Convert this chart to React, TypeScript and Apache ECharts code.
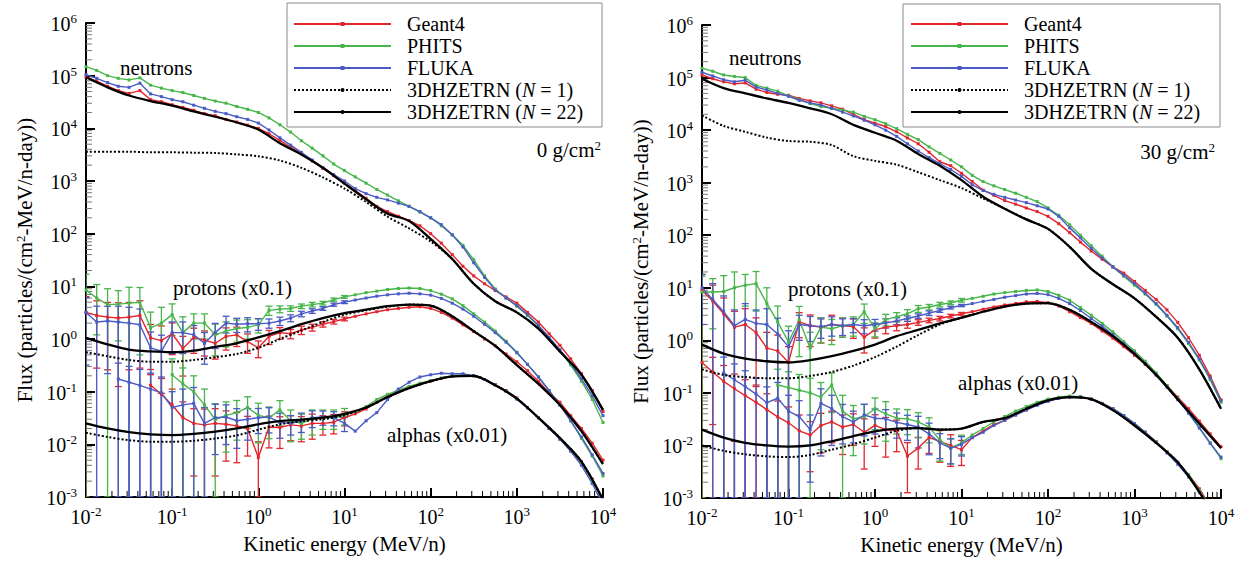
import React, { useEffect, useRef } from "react";
import * as echarts from "echarts";

// ---------- energy grids (MeV/n) ----------
const E_MC = [0.01, 0.0133, 0.0178, 0.0237, 0.0316, 0.0422, 0.0562, 0.075, 0.1, 0.133, 0.178, 0.237, 0.316, 0.422, 0.562, 0.75, 1, 1.33, 1.78, 2.37, 3.16, 4.22, 5.62, 7.5, 10, 13.3, 17.8, 23.7, 31.6, 42.2, 56.2, 75, 100, 133, 178, 237, 316, 422, 562, 750, 1000, 1330, 1780, 2370, 3160, 4220, 5620, 7500, 10000];
const E_TH = [0.01, 0.0178, 0.0316, 0.0562, 0.1, 0.178, 0.316, 0.562, 1, 1.78, 3.16, 5.62, 10, 17.8, 31.6, 56.2, 100, 178, 316, 562, 1000, 1780, 3160, 5620, 10000];

// ---------- 0 g/cm2 ----------
const L_NEU_G4 = [9.5e4, 7.9e4, 6.3e4, 5.2e4, 4.6e4, 5.2e4, 3.5e4, 3.2e4, 2.8e4, 2.5e4, 2.2e4, 1.9e4, 1.74e4, 1.48e4, 1.32e4, 1.15e4, 1.0e4, 7.9e3, 5.9e3, 4.4e3, 3.3e3, 2.4e3, 1.74e3, 1.26e3, 910, 660, 470, 330, 263, 214, 178, 141, 100, 66, 40, 24, 15.8, 11.2, 8.3, 6.3, 4.8, 3.2, 2.1, 1.26, 0.76, 0.42, 0.22, 0.105, 0.042];
const L_NEU_PH = [1.48e5, 1.26e5, 1.0e5, 8.9e4, 8.3e4, 9.1e4, 6.6e4, 5.8e4, 5.2e4, 4.8e4, 4.2e4, 3.7e4, 3.3e4, 3.0e4, 2.6e4, 2.3e4, 2.0e4, 1.58e4, 1.17e4, 8.5e3, 5.8e3, 4.2e3, 3.0e3, 2.1e3, 1.58e3, 1.2e3, 910, 690, 540, 420, 330, 257, 200, 141, 95, 60, 32, 15.8, 8.9, 6.0, 4.2, 2.8, 1.78, 1.05, 0.6, 0.32, 0.158, 0.071, 0.026];
const L_NEU_FL = [1.05e5, 8.9e4, 7.4e4, 6.3e4, 6.0e4, 7.2e4, 4.5e4, 4.0e4, 3.5e4, 3.2e4, 2.75e4, 2.4e4, 2.1e4, 1.9e4, 1.66e4, 1.48e4, 1.26e4, 9.3e3, 6.6e3, 4.8e3, 3.5e3, 2.5e3, 1.78e3, 1.32e3, 1.0e3, 720, 575, 490, 437, 380, 330, 263, 200, 148, 95, 56, 28, 14.8, 8.5, 6.0, 4.3, 2.9, 1.82, 1.07, 0.63, 0.34, 0.174, 0.083, 0.035];
const L_NEU_N1 = [3.6e3, 3.6e3, 3.6e3, 3.5e3, 3.5e3, 3.45e3, 3.4e3, 3.2e3, 2.95e3, 2.45e3, 1.78e3, 1.17e3, 720, 400, 210, 126, 71, 33, 11.2, 5.2, 3.2, 1.58, 0.58, 0.21, 0.045];
const L_NEU_N22 = [9.3e4, 6.0e4, 4.2e4, 3.3e4, 2.7e4, 2.1e4, 1.66e4, 1.29e4, 9.5e3, 5.2e3, 3.2e3, 1.78e3, 890, 450, 240, 174, 79, 33, 11.2, 5.2, 3.2, 1.58, 0.58, 0.21, 0.045];

const L_PRO_G4 = [3.2, 2.8, 2.6, 2.5, 2.6, 2.8, 1.05, 0.93, 1.26, 0.66, 1.07, 0.95, 0.83, 1.12, 1.2, 0.89, 0.68, 1.12, 1.32, 1.26, 1.48, 1.66, 1.91, 2.14, 2.4, 2.7, 3.0, 3.3, 3.6, 3.8, 4.0, 4.1, 3.8, 3.2, 2.5, 1.86, 1.38, 1.0, 0.74, 0.52, 0.37, 0.25, 0.158, 0.095, 0.063, 0.035, 0.02, 0.0105, 0.005];
const L_PRO_PH = [8.5, 6.0, 4.5, 4.6, 4.8, 5.0, 1.62, 2.0, 2.9, 1.32, 2.0, 2.0, 1.2, 1.41, 1.58, 1.66, 1.86, 3.5, 3.7, 3.8, 4.2, 4.5, 4.8, 5.6, 6.3, 6.9, 7.6, 8.1, 8.7, 9.1, 9.3, 9.1, 8.3, 7.1, 5.8, 4.3, 3.0, 2.1, 1.41, 0.91, 0.56, 0.33, 0.19, 0.105, 0.056, 0.028, 0.013, 0.006, 0.0025];
const L_PRO_FL = [3.2, 2.1, 2.2, 2.1, 2.0, 1.86, 0.68, 0.59, 1.32, 1.32, 1.2, 0.83, 1.32, 2.0, 1.9, 1.95, 1.95, 2.0, 2.2, 2.5, 3.0, 3.4, 3.8, 4.5, 5.0, 5.5, 6.0, 6.5, 6.9, 7.2, 7.4, 7.2, 6.8, 5.9, 4.8, 3.7, 2.7, 1.9, 1.32, 0.87, 0.55, 0.33, 0.19, 0.105, 0.056, 0.028, 0.0138, 0.0063, 0.0028];
const L_PRO_N1 = [0.56, 0.47, 0.4, 0.37, 0.37, 0.4, 0.45, 0.52, 0.68, 1.0, 1.45, 2.1, 2.9, 3.5, 4.1, 4.5, 4.3, 2.7, 1.41, 0.74, 0.32, 0.141, 0.056, 0.0178, 0.0042];
const L_PRO_N22 = [1.05, 0.79, 0.63, 0.58, 0.56, 0.6, 0.71, 0.83, 1.07, 1.41, 1.91, 2.5, 3.1, 3.6, 4.2, 4.5, 4.3, 2.7, 1.41, 0.74, 0.32, 0.141, 0.056, 0.0178, 0.0042];

const L_ALP_G4 = [null, null, null, null, null, null, 0.132, 0.089, 0.056, 0.032, 0.025, 0.0234, 0.025, 0.024, 0.0224, 0.02, 0.0056, 0.0214, 0.0209, 0.0234, 0.0224, 0.025, 0.025, 0.0263, 0.032, 0.038, 0.047, 0.063, 0.083, 0.1, 0.12, 0.138, 0.158, 0.178, 0.195, 0.204, 0.2, 0.17, 0.135, 0.105, 0.076, 0.05, 0.032, 0.02, 0.0126, 0.0079, 0.0047, 0.0022, 0.00089];
const L_ALP_PH = [null, null, null, null, null, null, null, null, 0.21, 0.141, 0.1, 0.056, 0.0295, 0.0355, 0.04, 0.05, 0.0355, 0.032, 0.045, 0.028, 0.025, 0.03, 0.032, 0.032, 0.0355, 0.042, 0.052, 0.071, 0.089, 0.107, 0.126, 0.145, 0.162, 0.182, 0.2, 0.209, 0.2, 0.17, 0.135, 0.102, 0.074, 0.05, 0.032, 0.02, 0.0126, 0.0076, 0.0044, 0.0021, 0.0008];
const L_ALP_FL = [null, null, null, 0.174, 0.151, 0.132, 0.112, 0.095, 0.05, 0.056, 0.06, 0.025, 0.032, 0.033, 0.028, 0.03, 0.032, 0.033, 0.026, 0.025, 0.028, 0.032, 0.033, 0.032, 0.025, 0.0178, 0.028, 0.04, 0.071, 0.112, 0.151, 0.19, 0.209, 0.224, 0.219, 0.219, 0.2, 0.17, 0.135, 0.102, 0.072, 0.049, 0.032, 0.02, 0.0126, 0.0074, 0.004, 0.0018, 0.0007];
const L_ALP_N1 = [0.0166, 0.0138, 0.012, 0.0112, 0.0112, 0.0117, 0.0129, 0.0148, 0.019, 0.024, 0.0275, 0.03, 0.0355, 0.05, 0.079, 0.117, 0.158, 0.195, 0.2, 0.132, 0.074, 0.032, 0.0132, 0.0047, 0.00089];
const L_ALP_N22 = [0.025, 0.02, 0.017, 0.0155, 0.015, 0.0158, 0.0174, 0.02, 0.024, 0.0275, 0.0295, 0.032, 0.038, 0.05, 0.079, 0.117, 0.158, 0.195, 0.2, 0.132, 0.074, 0.032, 0.0132, 0.0047, 0.00089];

// relative statistical errors (sigma / value) of the low-energy Monte Carlo bins
const L_PRO_G4_ERR = [1.0, 0.9, 0.9, 0.95, 0.9, 0.9, 0.8, 0.9, 0.6, 0.7, 0.5, 0.5, 0.5, 0.45, 0.4, 0.4, 0.35, 0.3, 0.25, 0.2, 0.18, 0.15, 0.12, 0.1, 0.08];
const L_PRO_PH_ERR = [1.0, 0.8, 1.0, 0.8, 1.0, 0.9, 1.0, 1.0, 0.6, 1.0, 0.5, 0.5, 0.6, 0.5, 0.45, 0.4, 0.3, 0.2, 0.15, 0.12, 0.1, 0.1, 0.08, 0.07, 0.06];
const L_PRO_FL_ERR = [0.9, 1.0, 0.9, 1.0, 1.0, 1.0, 1.0, 1.0, 0.6, 0.6, 0.5, 0.6, 0.5, 0.35, 0.3, 0.3, 0.25, 0.2, 0.18, 0.15, 0.12, 0.1, 0.08, 0.07, 0.06];
const L_ALP_G4_ERR = [null, null, null, null, null, null, 1.0, 1.0, 1.0, 1.0, 0.9, 1.0, 0.9, 0.8, 0.8, 0.7, 1.0, 0.6, 0.6, 0.5, 0.5, 0.5, 0.4, 0.4, 0.3];
const L_ALP_PH_ERR = [null, null, null, null, null, null, null, null, 1.0, 1.0, 1.0, 1.0, 1.0, 0.8, 0.7, 0.6, 0.7, 0.6, 0.5, 0.6, 0.5, 0.5, 0.4, 0.4, 0.35];
const L_ALP_FL_ERR = [null, null, null, 1.0, 1.0, 1.0, 1.0, 1.0, 1.0, 1.0, 1.0, 1.0, 0.8, 0.7, 0.7, 0.6, 0.5, 0.5, 0.5, 0.4, 0.4, 0.35, 0.3, 0.3, 0.3];

// ---------- 30 g/cm2 ----------
const R_NEU_G4 = [1.12e5, 9.5e4, 8.3e4, 7.6e4, 7.9e4, 6.0e4, 5.2e4, 4.8e4, 4.6e4, 4.0e4, 3.6e4, 3.3e4, 2.9e4, 2.5e4, 2.0e4, 1.58e4, 1.35e4, 1.17e4, 9.3e3, 7.1e3, 5.5e3, 3.8e3, 2.5e3, 2.1e3, 1.51e3, 1.05e3, 720, 575, 457, 390, 330, 282, 229, 166, 112, 74, 50, 35, 25, 19, 13.2, 8.9, 6.0, 3.8, 2.2, 1.12, 0.52, 0.21, 0.074];
const R_NEU_PH = [1.51e5, 1.32e5, 1.12e5, 1.05e5, 1.0e5, 7.1e4, 6.3e4, 5.5e4, 4.5e4, 3.8e4, 3.2e4, 2.8e4, 2.6e4, 2.4e4, 2.2e4, 1.82e4, 1.58e4, 1.32e4, 1.07e4, 8.3e3, 6.6e3, 4.8e3, 3.6e3, 2.7e3, 2.0e3, 1.38e3, 1.05e3, 870, 740, 630, 525, 437, 330, 240, 158, 100, 63, 40, 25, 16.6, 11.2, 7.6, 4.8, 2.9, 1.66, 0.87, 0.42, 0.178, 0.066];
const R_NEU_FL = [1.26e5, 1.07e5, 9.1e4, 8.3e4, 8.9e4, 6.6e4, 5.8e4, 5.0e4, 4.4e4, 3.7e4, 3.3e4, 3.0e4, 2.6e4, 2.2e4, 1.86e4, 1.55e4, 1.26e4, 1.0e4, 7.6e3, 5.5e3, 4.0e3, 3.0e3, 2.3e3, 1.78e3, 1.32e3, 910, 710, 600, 525, 468, 417, 363, 316, 229, 138, 89, 56, 37, 25, 17.4, 12, 7.9, 5.0, 3.0, 1.74, 0.91, 0.44, 0.19, 0.071];
const R_NEU_N1 = [1.9e4, 1.2e4, 9.3e3, 7.2e3, 6.2e3, 6.0e3, 5.2e3, 3.2e3, 2.6e3, 2.2e3, 1.58e3, 1.12e3, 790, 500, 320, 200, 132, 60, 23, 11.7, 6.3, 2.8, 1.12, 0.28, 0.05];
const R_NEU_N22 = [9.5e4, 6.3e4, 5.0e4, 4.0e4, 3.3e4, 2.6e4, 2.0e4, 1.26e4, 8.9e3, 6.3e3, 3.5e3, 2.1e3, 1.12e3, 540, 320, 200, 132, 60, 23, 11.7, 6.3, 2.8, 1.12, 0.28, 0.05];

const R_PRO_G4 = [8.9, 5.6, 3.2, 1.78, 2.0, 1.41, 0.71, 0.63, 0.38, 2.24, 1.9, 1.78, 2.0, 1.9, 1.82, 1.15, 1.58, 1.78, 1.9, 2.0, 2.2, 2.4, 2.6, 2.9, 3.2, 3.5, 3.9, 4.3, 4.7, 5.0, 5.4, 5.5, 5.2, 4.5, 3.5, 2.7, 2.1, 1.51, 1.1, 0.76, 0.52, 0.35, 0.22, 0.138, 0.083, 0.05, 0.029, 0.0166, 0.0095];
const R_PRO_PH = [8.3, 8.3, 8.5, 10, 11.2, 12, 5.0, 2.24, 0.93, 2.45, 0.71, 1.78, 1.66, 1.9, 2.0, 3.5, 1.66, 2.5, 2.8, 3.2, 4.0, 4.3, 4.8, 5.2, 5.8, 6.3, 6.9, 7.6, 8.1, 8.5, 8.9, 9.1, 8.5, 7.2, 5.8, 4.2, 3.0, 2.1, 1.45, 0.95, 0.63, 0.4, 0.24, 0.138, 0.079, 0.043, 0.022, 0.0112, 0.0056];
const R_PRO_FL = [10, 6.0, 3.5, 1.9, 2.5, 2.1, 2.0, 1.32, 0.76, 2.0, 1.9, 1.82, 2.0, 1.9, 2.0, 1.9, 2.0, 2.14, 2.34, 2.6, 2.9, 3.3, 3.7, 4.2, 4.6, 5.0, 5.5, 6.0, 6.6, 7.1, 7.6, 7.8, 7.4, 6.3, 5.0, 3.7, 2.6, 1.86, 1.29, 0.87, 0.58, 0.36, 0.22, 0.129, 0.074, 0.041, 0.0214, 0.011, 0.006];
const R_PRO_N1 = [0.28, 0.22, 0.2, 0.19, 0.19, 0.21, 0.25, 0.33, 0.48, 0.76, 1.26, 2.0, 2.7, 3.5, 4.4, 5.0, 5.1, 3.8, 2.24, 1.2, 0.55, 0.22, 0.076, 0.026, 0.0089];
const R_PRO_N22 = [0.83, 0.56, 0.45, 0.4, 0.38, 0.42, 0.5, 0.63, 0.83, 1.2, 1.58, 2.1, 2.7, 3.5, 4.4, 5.0, 5.1, 3.8, 2.24, 1.2, 0.55, 0.22, 0.076, 0.026, 0.0089];

const R_ALP_G4 = [0.38, 0.25, 0.166, 0.12, 0.089, 0.066, 0.048, 0.035, 0.027, 0.019, 0.0158, 0.024, 0.028, 0.0224, 0.025, 0.0178, 0.024, 0.02, 0.019, 0.0063, 0.0089, 0.0141, 0.012, 0.01, 0.0083, 0.0141, 0.019, 0.025, 0.03, 0.038, 0.048, 0.06, 0.071, 0.079, 0.083, 0.083, 0.076, 0.063, 0.05, 0.037, 0.026, 0.0178, 0.0117, 0.0076, 0.0048, 0.0028, 0.0015, 0.0007, 0.00025];
const R_ALP_PH = [null, null, null, null, null, null, null, 0.141, 0.126, 0.112, 0.1, 0.083, 0.141, 0.045, 0.032, 0.0355, 0.05, 0.04, 0.033, 0.032, 0.028, 0.0224, 0.0126, 0.0089, 0.0112, 0.0158, 0.021, 0.028, 0.0355, 0.045, 0.055, 0.066, 0.076, 0.083, 0.087, 0.085, 0.076, 0.063, 0.05, 0.037, 0.026, 0.0178, 0.0117, 0.0076, 0.0047, 0.0028, 0.0014, 0.00066, 0.00025];
const R_ALP_FL = [null, null, 0.24, 0.178, 0.132, 0.095, 0.065, 0.079, 0.045, 0.0355, 0.02, 0.063, 0.05, 0.0355, 0.028, 0.038, 0.033, 0.032, 0.0275, 0.025, 0.0224, 0.0166, 0.0112, 0.0089, 0.0105, 0.0141, 0.0178, 0.024, 0.03, 0.038, 0.047, 0.058, 0.069, 0.078, 0.083, 0.083, 0.076, 0.063, 0.05, 0.037, 0.026, 0.0178, 0.0115, 0.0072, 0.0044, 0.0025, 0.0013, 0.00063, 0.00025];
const R_ALP_N1 = [0.01, 0.0079, 0.0068, 0.0062, 0.006, 0.0066, 0.0083, 0.0105, 0.0141, 0.019, 0.0214, 0.02, 0.0209, 0.028, 0.033, 0.05, 0.072, 0.083, 0.076, 0.047, 0.024, 0.0112, 0.0048, 0.0013, 0.00025];
const R_ALP_N22 = [0.02, 0.0141, 0.0112, 0.01, 0.0095, 0.01, 0.012, 0.0151, 0.0186, 0.0209, 0.0214, 0.02, 0.0209, 0.028, 0.033, 0.05, 0.072, 0.083, 0.076, 0.047, 0.024, 0.0112, 0.0048, 0.0013, 0.00025];

const R_PRO_G4_ERR = [1.0, 1.0, 1.0, 1.0, 1.0, 0.9, 1.0, 1.0, 1.0, 0.5, 0.6, 0.5, 0.5, 0.4, 0.4, 0.5, 0.3, 0.25, 0.2, 0.15, 0.12, 0.1, 0.1, 0.08, 0.06];
const R_PRO_PH_ERR = [1.0, 0.8, 1.0, 1.0, 0.6, 0.7, 1.0, 1.0, 1.0, 0.8, 1.0, 0.5, 0.5, 0.4, 0.4, 0.4, 0.3, 0.25, 0.2, 0.2, 0.15, 0.12, 0.1, 0.08, 0.08];
const R_PRO_FL_ERR = [0.8, 1.0, 1.0, 1.0, 1.0, 0.8, 1.0, 1.0, 1.0, 0.5, 0.5, 0.4, 0.4, 0.35, 0.3, 0.3, 0.25, 0.2, 0.15, 0.12, 0.1, 0.1, 0.08, 0.06, 0.05];
const R_ALP_G4_ERR = [1.0, 0.9, 1.0, 0.9, 1.0, 1.0, 1.0, 1.0, 1.0, 1.0, 0.8, 0.7, 0.6, 0.7, 0.6, 0.8, 0.6, 0.7, 0.6, 0.8, 0.6, 0.5, 0.6, 0.6, 0.5];
const R_ALP_PH_ERR = [null, null, null, null, null, null, null, 1.0, 1.0, 1.0, 0.9, 0.9, 0.7, 1.0, 0.8, 0.7, 0.6, 0.7, 0.5, 0.5, 0.5, 0.5, 0.6, 0.5, 0.4];
const R_ALP_FL_ERR = [null, null, 1.0, 1.0, 1.0, 1.0, 1.0, 1.0, 1.0, 1.0, 0.9, 0.9, 0.8, 0.7, 0.6, 0.6, 0.5, 0.5, 0.5, 0.5, 0.6, 0.6, 0.5, 0.5, 0.4];

// ---------- axis / legend text ----------
const LEGEND_NAMES = ["Geant4", "PHITS", "FLUKA", "3DHZETRN (N = 1)", "3DHZETRN (N = 22)"];
const MINOR_MULT = [2, 3, 4, 5, 6, 7, 8, 9];
const X_DECADES = [-2, -1, 0, 1, 2, 3];
const Y_DECADES = [-3, -2, -1, 0, 1, 2, 3, 4, 5];

const X_MIN = 0.01, X_MAX = 10000, Y_MIN = 0.001, Y_MAX = 1e6;
const FONT = "Times New Roman, Liberation Serif, DejaVu Serif, serif";
const RED = "#e3262d";
const GREEN = "#47b64a";
const BLUE = "#4a5bc6";

const supRich = {
  b: { fontSize: 20, fontFamily: FONT, color: "#000", verticalAlign: "bottom", lineHeight: 22 },
  s: { fontSize: 13, fontFamily: FONT, color: "#000", verticalAlign: "bottom", lineHeight: 22, padding: [0, 0, 9, 0] },
};
const powLabel = (v: number) => {
  const e = Math.round(Math.log10(v));
  return `{b|10}{s|${e}}`;
};

function pairs(xs: number[], ys: (number | null)[]) {
  const out: number[][] = [];
  ys.forEach((y, i) => {
    if (y != null) out.push([xs[i], y]);
  });
  return out;
}

function errData(ys: (number | null)[], errs: (number | null)[]) {
  const out: number[][] = [];
  errs.forEach((r, i) => {
    const v = ys[i];
    if (r == null || v == null) return;
    out.push([E_MC[i], v, Math.max(v * (1 - r), Y_MIN), Math.min(v * (1 + r), Y_MAX)]);
  });
  return out;
}

const errRender = (color: string) => (params: any, api: any) => {
  const x = api.value(0);
  const lo = api.coord([x, api.value(2)]);
  const hi = api.coord([x, api.value(3)]);
  const w = 3.5;
  const st = { stroke: color, lineWidth: 1.3 };
  return {
    type: "group",
    children: [
      { type: "line", shape: { x1: lo[0], y1: lo[1], x2: hi[0], y2: hi[1] }, style: st },
      { type: "line", shape: { x1: hi[0] - w, y1: hi[1], x2: hi[0] + w, y2: hi[1] }, style: st },
      { type: "line", shape: { x1: lo[0] - w, y1: lo[1], x2: lo[0] + w, y2: lo[1] }, style: st },
    ],
  };
};

function mc(name: string, color: string, ys: (number | null)[], gi: number) {
  return {
    type: "line",
    name,
    xAxisIndex: gi,
    yAxisIndex: gi,
    data: pairs(E_MC, ys),
    symbol: "rect",
    symbolSize: 3,
    showSymbol: true,
    showAllSymbol: true,
    lineStyle: { color, width: 1.4 },
    itemStyle: { color },
    z: 3,
    silent: true,
  };
}

function th(name: string, ys: number[], gi: number, dotted: boolean) {
  return {
    type: "line",
    name,
    xAxisIndex: gi,
    yAxisIndex: gi,
    data: pairs(E_TH, ys),
    smooth: 0.3,
    symbol: "none",
    showSymbol: false,
    lineStyle: { color: "#000", width: dotted ? 2 : 2.3, type: dotted ? "dotted" : "solid" },
    itemStyle: { color: "#000" },
    z: 4,
    silent: true,
  };
}

function eb(color: string, ys: (number | null)[], errs: (number | null)[], gi: number) {
  return {
    type: "custom",
    xAxisIndex: gi,
    yAxisIndex: gi,
    data: errData(ys, errs),
    encode: { x: 0, y: 1 },
    renderItem: errRender(color),
    clip: true,
    z: 2,
    silent: true,
  };
}

function minorTicks(gi: number) {
  const yVals: number[][] = [];
  Y_DECADES.forEach((d) => MINOR_MULT.forEach((m) => yVals.push([X_MIN, m * Math.pow(10, d)])));
  const xVals: number[][] = [];
  X_DECADES.forEach((d) => MINOR_MULT.forEach((m) => xVals.push([m * Math.pow(10, d), Y_MIN])));
  return [
    {
      type: "custom",
      xAxisIndex: gi,
      yAxisIndex: gi,
      data: yVals,
      encode: { x: 0, y: 1 },
      silent: true,
      z: 1,
      renderItem: (p: any, api: any) => {
        const c = api.coord([api.value(0), api.value(1)]);
        return { type: "line", shape: { x1: c[0], y1: c[1], x2: c[0] + 6, y2: c[1] }, style: { stroke: "#777", lineWidth: 1 } };
      },
    },
    {
      type: "custom",
      xAxisIndex: gi,
      yAxisIndex: gi,
      data: xVals,
      encode: { x: 0, y: 1 },
      silent: true,
      z: 1,
      renderItem: (p: any, api: any) => {
        const c = api.coord([api.value(0), api.value(1)]);
        return { type: "line", shape: { x1: c[0], y1: c[1], x2: c[0], y2: c[1] - 6 }, style: { stroke: "#000", lineWidth: 1 } };
      },
    },
  ];
}

type PanelData = {
  neu: number[][];
  pro: number[][];
  alp: (number | null)[][];
  proErr: (number | null)[][];
  alpErr: (number | null)[][];
};

function panelSeries(gi: number, d: PanelData) {
  const out: any[] = [...minorTicks(gi)];
  const colors = [RED, GREEN, BLUE];
  const names = ["Geant4", "PHITS", "FLUKA"];
  [0, 1, 2].forEach((k) => {
    out.push(eb(colors[k], d.pro[k], d.proErr[k], gi));
    out.push(eb(colors[k], d.alp[k], d.alpErr[k], gi));
  });
  [0, 1, 2].forEach((k) => {
    out.push(mc(names[k], colors[k], d.neu[k], gi));
    out.push(mc(names[k], colors[k], d.pro[k], gi));
    out.push(mc(names[k], colors[k], d.alp[k], gi));
  });
  out.push(th("3DHZETRN (N = 1)", d.neu[3], gi, true));
  out.push(th("3DHZETRN (N = 1)", d.pro[3], gi, true));
  out.push(th("3DHZETRN (N = 1)", d.alp[3] as number[], gi, true));
  out.push(th("3DHZETRN (N = 22)", d.neu[4], gi, false));
  out.push(th("3DHZETRN (N = 22)", d.pro[4], gi, false));
  out.push(th("3DHZETRN (N = 22)", d.alp[4] as number[], gi, false));
  return out;
}

const LEFT: PanelData = {
  neu: [L_NEU_G4, L_NEU_PH, L_NEU_FL, L_NEU_N1, L_NEU_N22],
  pro: [L_PRO_G4, L_PRO_PH, L_PRO_FL, L_PRO_N1, L_PRO_N22],
  alp: [L_ALP_G4, L_ALP_PH, L_ALP_FL, L_ALP_N1, L_ALP_N22],
  proErr: [L_PRO_G4_ERR, L_PRO_PH_ERR, L_PRO_FL_ERR],
  alpErr: [L_ALP_G4_ERR, L_ALP_PH_ERR, L_ALP_FL_ERR],
};
const RIGHT: PanelData = {
  neu: [R_NEU_G4, R_NEU_PH, R_NEU_FL, R_NEU_N1, R_NEU_N22],
  pro: [R_PRO_G4, R_PRO_PH, R_PRO_FL, R_PRO_N1, R_PRO_N22],
  alp: [R_ALP_G4, R_ALP_PH, R_ALP_FL, R_ALP_N1, R_ALP_N22],
  proErr: [R_PRO_G4_ERR, R_PRO_PH_ERR, R_PRO_FL_ERR],
  alpErr: [R_ALP_G4_ERR, R_ALP_PH_ERR, R_ALP_FL_ERR],
};

function xAxis(gi: number) {
  return {
    type: "log",
    logBase: 10,
    gridIndex: gi,
    min: X_MIN,
    max: X_MAX,
    interval: 1,
    splitNumber: 6,
    axisLine: { show: true, lineStyle: { color: "#000", width: 2 } },
    axisTick: { show: true, inside: true, length: 9, lineStyle: { color: "#000", width: 2 } },
    axisLabel: { formatter: powLabel, rich: supRich, margin: 8, color: "#000", fontFamily: FONT },
    splitLine: { show: false },
    minorTick: { show: false },
    name: "Kinetic energy (MeV/n)",
    nameLocation: "middle",
    nameGap: 36,
    nameTextStyle: { fontFamily: FONT, fontSize: 21, color: "#000" },
  };
}

function yAxis(gi: number) {
  return {
    type: "log",
    logBase: 10,
    gridIndex: gi,
    min: Y_MIN,
    max: Y_MAX,
    interval: 1,
    splitNumber: 9,
    axisLine: { show: true, lineStyle: { color: "#000", width: 2 } },
    axisTick: { show: true, inside: true, length: 9, lineStyle: { color: "#000", width: 2 } },
    axisLabel: { formatter: powLabel, rich: supRich, margin: 9, color: "#000", fontFamily: FONT },
    splitLine: { show: false },
    name: "Flux (particles/(cm{s|2}-MeV/n-day))",
    nameLocation: "middle",
    nameRotate: 90,
    nameGap: 50,
    nameTextStyle: {
      fontFamily: FONT,
      fontSize: 21,
      color: "#000",
      rich: { s: { fontFamily: FONT, fontSize: 13, color: "#000", verticalAlign: "bottom", padding: [0, 0, 9, 0] } },
    },
  };
}

function legend(left: number) {
  return {
    left,
    top: 13,
    orient: "vertical",
    padding: 0,
    itemWidth: 97,
    itemHeight: 5,
    itemGap: 0,
    selectedMode: false,
    data: LEGEND_NAMES,
    formatter: (n: string) => n.replace("(N", "({i|N}"),
    textStyle: {
      fontFamily: FONT,
      fontSize: 20,
      color: "#000",
      lineHeight: 22,
      padding: [0, 0, 0, 11],
      rich: { i: { fontFamily: FONT, fontSize: 20, fontStyle: "italic", color: "#000", lineHeight: 22 } },
    },
  };
}

function label(x: number, y: number, text: string, align = "left") {
  return {
    type: "text",
    x,
    y,
    z: 10,
    style: {
      text,
      fontFamily: FONT,
      fontSize: 21,
      fill: "#000",
      align,
      verticalAlign: "middle",
      rich: { s: { fontFamily: FONT, fontSize: 13, fill: "#000", verticalAlign: "bottom", padding: [0, 0, 9, 0] } },
    },
  };
}

export default function App() {
  const ref = useRef<HTMLDivElement>(null);
  useEffect(() => {
    if (!ref.current) return;
    const chart = echarts.init(ref.current, null, { renderer: "svg" });
    chart.setOption({
      animation: false,
      backgroundColor: "#fff",
      textStyle: { fontFamily: FONT },
      grid: [
        { left: 86, top: 23, width: 517, height: 474 },
        { left: 702, top: 25, width: 519, height: 473 },
      ],
      xAxis: [xAxis(0), xAxis(1)],
      yAxis: [yAxis(0), yAxis(1)],
      legend: [legend(293), legend(910)],
      graphic: [
        { type: "rect", shape: { x: 287, y: 3, width: 315, height: 124 }, style: { fill: "none", stroke: "#8a8a8a", lineWidth: 1 }, z: 9 },
        { type: "rect", shape: { x: 903, y: 4, width: 317, height: 123 }, style: { fill: "none", stroke: "#8a8a8a", lineWidth: 1 }, z: 9 },
        label(120, 68, "neutrons"),
        label(601, 150, "0 g/cm{s|2}", "right"),
        label(173, 288, "protons (x0.1)"),
        label(387, 435, "alphas (x0.01)"),
        label(729, 58, "neutrons"),
        label(1215, 152, "30 g/cm{s|2}", "right"),
        label(788, 289, "protons (x0.1)"),
        label(958, 383, "alphas (x0.01)"),
      ],
      series: [...panelSeries(0, LEFT), ...panelSeries(1, RIGHT)],
    });
    return () => chart.dispose();
  }, []);
  return <div ref={ref} style={{ position: "absolute", left: 0, top: 0, width: 1244, height: 562 }} />;
}
